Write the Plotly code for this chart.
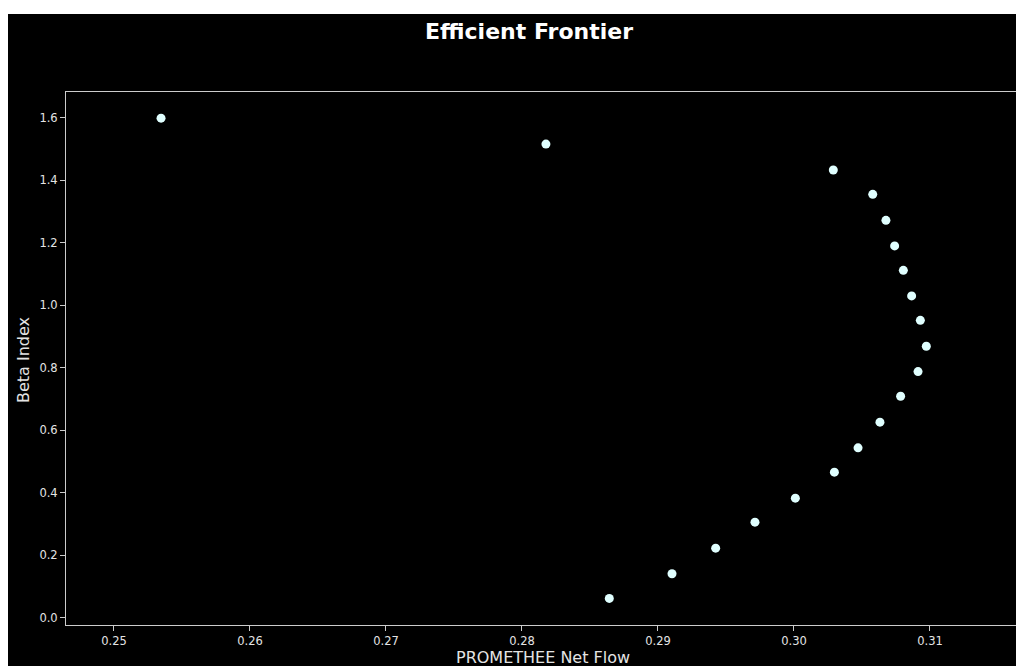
import plotly.graph_objects as go

# Portfolio points on the efficient frontier
net_flow = [0.25346, 0.28176, 0.30289, 0.30579, 0.30676, 0.30740, 0.30804,
            0.30865, 0.30929, 0.30973, 0.30912, 0.30784, 0.30632, 0.30471,
            0.30297, 0.30010, 0.29713, 0.29424, 0.29103, 0.28642]
beta_index = [1.598, 1.515, 1.432, 1.354, 1.271, 1.189, 1.111, 1.029, 0.951,
              0.868, 0.787, 0.708, 0.625, 0.543, 0.465, 0.382, 0.305, 0.222,
              0.140, 0.061]

x_ticks = [0.25, 0.26, 0.27, 0.28, 0.29, 0.30, 0.31]
y_ticks = [0.0, 0.2, 0.4, 0.6, 0.8, 1.0, 1.2, 1.4, 1.6]

W, H = 1016, 666
L, R, T, B = 66, 0, 92, 41
PW, PH = W - L - R, H - T - B


def px_x(p):
    return (p - L) / PW


def px_y(p):
    return (H - B - p) / PH


FONT = "DejaVu Sans"
AXIS = "#cccccc"
TXT = "#e4e4e4"

fig = go.Figure(
    go.Scatter(
        x=net_flow, y=beta_index, mode="markers",
        marker=dict(size=9, color="#e0ffff", line=dict(width=0)),
        hoverinfo="x+y",
    )
)

fig.update_layout(
    width=W, height=H, autosize=False,
    margin=dict(l=L, r=R, t=T, b=B, pad=0),
    paper_bgcolor="white", plot_bgcolor="black",
    showlegend=False,
    font=dict(family=FONT, color=TXT),
    shapes=[
        dict(type="rect", xref="paper", yref="paper", layer="below",
             x0=px_x(8), x1=1.02, y0=px_y(H + 10), y1=px_y(14),
             fillcolor="black", line=dict(width=0)),
    ],
    annotations=[
        dict(text="<b>Efficient Frontier</b>", xref="paper", yref="paper",
             x=px_x(529), y=px_y(31), xanchor="center", yanchor="middle",
             showarrow=False, font=dict(family=FONT, size=22, color="white")),
        dict(text="PROMETHEE Net Flow", xref="paper", yref="paper",
             x=px_x(543), y=px_y(657), xanchor="center", yanchor="middle",
             showarrow=False, font=dict(family=FONT, size=16, color=TXT)),
        dict(text="Beta Index", xref="paper", yref="paper", textangle=-90,
             x=px_x(23), y=px_y(360), xanchor="center", yanchor="middle",
             showarrow=False, font=dict(family=FONT, size=16, color=TXT)),
    ],
)

fig.update_xaxes(
    range=[0.246471, 0.316324], tickvals=x_ticks, tickformat=".2f",
    showgrid=False, zeroline=False,
    showline=True, linecolor=AXIS, linewidth=1, mirror=True,
    ticks="outside", ticklen=5, tickcolor=AXIS, tickwidth=1,
    tickfont=dict(family=FONT, size=11.5, color=TXT),
)
fig.update_yaxes(
    range=[-0.024, 1.6816], tickvals=y_ticks, tickformat=".1f",
    showgrid=False, zeroline=False,
    showline=True, linecolor=AXIS, linewidth=1, mirror=False,
    ticks="outside", ticklen=5, tickcolor=AXIS, tickwidth=1,
    tickfont=dict(family=FONT, size=11.5, color=TXT),
)

fig.write_html("out.html")
